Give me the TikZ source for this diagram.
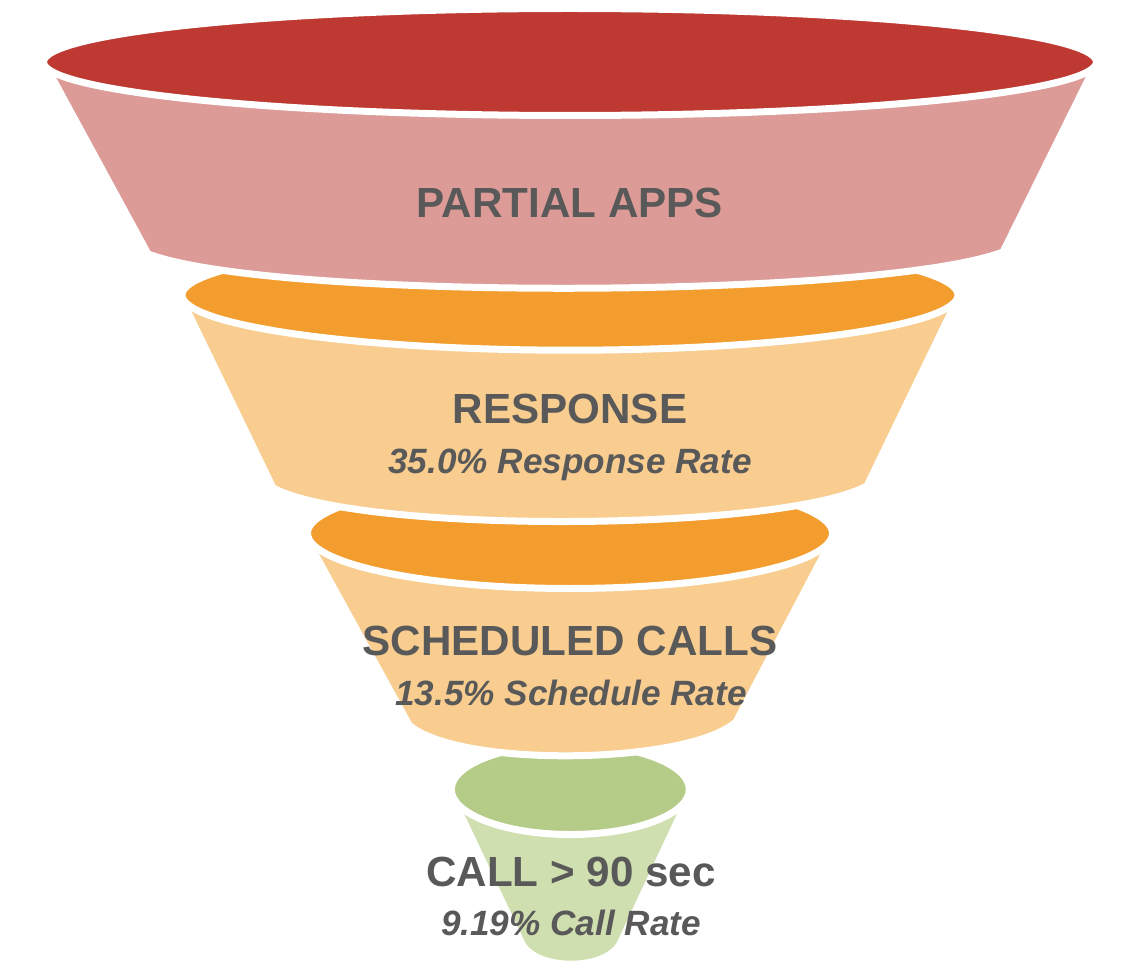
\documentclass[tikz,border=0pt]{standalone}
\usepackage{fontspec}
\setmainfont{Liberation Sans}
\usepackage{tikz}

\definecolor{capred}{RGB}{190,57,49}
\definecolor{bodyred}{RGB}{220,155,151}
\definecolor{caporange}{RGB}{242,157,46}
\definecolor{bodyorange}{RGB}{248,205,143}
\definecolor{capgreen}{RGB}{181,204,136}
\definecolor{bodygreen}{RGB}{208,223,176}
\definecolor{labelgray}{RGB}{89,89,89}

\tikzset{
  funnelpart/.style={draw=white, line width=0.14cm, line join=round},
  stagelabel/.style={text=labelgray, font=\fontsize{24}{28}\selectfont\bfseries, anchor=base, inner sep=0pt},
  ratelabel/.style={text=labelgray, font=\fontsize{20}{24}\selectfont\bfseries\itshape, anchor=base, inner sep=0pt}
}

\begin{document}
\begin{tikzpicture}[x=0.02cm, y=-0.02cm]
    \useasboundingbox (0,0) rectangle (1143,976);
    % call stage
    \filldraw[funnelpart, fill=bodygreen] (456,805) -- (522,944) .. controls +(15,27) and +(-15,27) .. (620,944) -- (685,805) -- cycle;
    \filldraw[funnelpart, fill=capgreen] (570.3,789.3) ellipse [x radius=119, y radius=45.2];
    % scheduled stage
    \filldraw[funnelpart, fill=bodyorange] (310,545) -- (409,725) .. controls +(49,43) and +(-49,43) .. (736,722) -- (829,545) -- cycle;
    \filldraw[funnelpart, fill=caporange] (570,533.3) ellipse [x radius=262.5, y radius=55.2];
    % response stage
    \filldraw[funnelpart, fill=bodyorange] (183,302) -- (273,488) .. controls +(88,46) and +(-88,46) .. (867,486) -- (956,302) -- cycle;
    \filldraw[funnelpart, fill=caporange] (570,295) ellipse [x radius=388, y radius=55.2];
    % partial apps
    \filldraw[funnelpart, fill=bodyred] (48,70) -- (148,254) .. controls +(126,47) and +(-126,47) .. (1003,252) -- (1093,70) -- cycle;
    \filldraw[funnelpart, fill=capred] (570,62) ellipse [x radius=526.5, y radius=53.5];

    \node[stagelabel] (partial) at (570,217.3) {PARTIAL APPS};
    \node[stagelabel] (response) at (570,423.3) {RESPONSE};
    \node[ratelabel] (responserate) at (570,473.3) {35.0\% Response Rate};
    \node[stagelabel] (scheduled) at (570,655) {SCHEDULED CALLS};
    \node[ratelabel] (schedulerate) at (571,705) {13.5\% Schedule Rate};
    \node[stagelabel] (call) at (571,886.7) {CALL > 90 sec};
    \node[ratelabel] (callrate) at (571,935) {9.19\% Call Rate};
\end{tikzpicture}
\end{document}
